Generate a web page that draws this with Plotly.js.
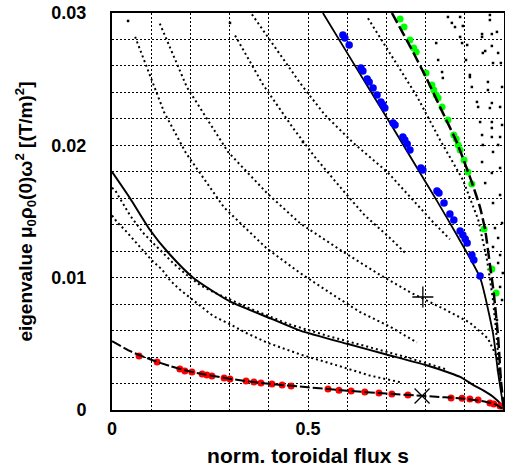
<!DOCTYPE html>
<html><head><meta charset="utf-8">
<script src="https://cdn.plot.ly/plotly-3.0.1.min.js"></script>
<style>html,body{margin:0;padding:0;background:#fff}#chart{width:505px;height:470px}</style>
</head><body><div id="chart"></div>
<script>
// ---- tick labels ----
const xTickVals = [0, 0.5, 1];
const xTickText = ['0', '0.5', '1'];
const yTickVals = [0, 0.01, 0.02, 0.03];
const yTickText = ['0', '0.01', '0.02', '0.03'];

// ---- continuum curves ----
const lowSolidX = [0, 0.046, 0.097, 0.143, 0.207, 0.301, 0.406, 0.48, 0.6, 0.7, 0.8, 0.862, 0.888, 0.921, 0.946, 0.972, 0.99, 1.0];
const lowSolidY = [0.0180, 0.0160, 0.0136, 0.0119, 0.0100, 0.0082, 0.0069, 0.0060, 0.0050, 0.0042, 0.0034, 0.0028, 0.0025, 0.0019, 0.0015, 0.0010, 0.0005, 0];

const redDashX = [0, 0.05, 0.1, 0.15, 0.2, 0.3, 0.4, 0.5, 0.6, 0.7, 0.8, 0.9, 0.95, 0.98, 1];
const redDashY = [0.0052, 0.0044, 0.0038, 0.0033, 0.0029, 0.00236, 0.00198, 0.00172, 0.00146, 0.00124, 0.00105, 0.00085, 0.00065, 0.0004, 0];

const upSolidX = [0.538, 0.612, 0.709, 0.778, 0.829, 0.88, 0.939, 0.972, 0.985, 0.997, 1.0];
const upSolidY = [0.030, 0.0264, 0.0217, 0.0183, 0.0158, 0.0132, 0.0100, 0.0058, 0.0028, 0.0005, 0];

const upDashX = [0.714, 0.76, 0.8, 0.84, 0.88, 0.918, 0.939, 0.952, 0.964, 0.974, 0.985, 0.992, 1.0];
const upDashY = [0.030, 0.0275, 0.0252, 0.0227, 0.0202, 0.0172, 0.0153, 0.0136, 0.0110, 0.0088, 0.0055, 0.0023, 0];

// ---- eigenvalue points ----
const redX = [0.069,0.115,0.173,0.186,0.204,0.230,0.242,0.255,0.286,0.301,0.342,0.362,0.380,0.408,0.434,0.457,0.551,0.579,0.610,0.645,0.681,0.714,0.755,0.865,0.893,0.913,0.934,0.964,0.974,0.990];
const redY = [0.00408,0.00363,0.0031,0.00295,0.00287,0.00272,0.00264,0.00257,0.00242,0.00234,0.00219,0.00212,0.00204,0.00196,0.00189,0.00181,0.00159,0.00150,0.00144,0.00136,0.00128,0.00121,0.00113,0.00091,0.00088,0.00083,0.00076,0.00053,0.00045,0.0003];

const blueX = [0.589,0.594,0.605,0.635,0.640,0.651,0.656,0.666,0.676,0.686,0.691,0.696,0.717,0.722,0.742,0.747,0.753,0.760,0.788,0.793,0.829,0.834,0.847,0.862,0.872,0.888,0.895,0.901,0.906,0.918,0.923,0.939];
const blueY = [0.02834,0.02811,0.02758,0.02585,0.02562,0.02501,0.02479,0.02433,0.02381,0.02328,0.02306,0.02282,0.02169,0.02154,0.02063,0.0204,0.0201,0.01965,0.01829,0.01814,0.01655,0.0164,0.01564,0.01481,0.01436,0.01353,0.01322,0.01292,0.01262,0.01171,0.01134,0.01013];

const greenX = [0.735,0.745,0.760,0.770,0.776,0.801,0.816,0.821,0.827,0.832,0.842,0.857,0.872,0.878,0.883,0.888,0.898,0.908,0.918,0.949,0.969,0.980];
const greenY = [0.02955,0.02894,0.02796,0.02736,0.02705,0.02547,0.02456,0.02418,0.0238,0.02358,0.0229,0.02192,0.02078,0.02048,0.02003,0.01965,0.01889,0.01799,0.01708,0.01368,0.01066,0.00884];

// ---- dotted branches (small black dots) ----
const brAX = [0.059,0.133,0.189,0.286,0.395,0.480,0.564,0.633,0.709,0.778];
const brAY = [0.0282,0.0225,0.0194,0.0153,0.0122,0.01035,0.0087,0.0074,0.0063,0.0051];
const brBX = [0.122,0.191,0.296,0.395,0.480,0.582,0.684,0.760,0.849,0.913,0.959,0.985];
const brBY = [0.0292,0.0244,0.0195,0.0164,0.0141,0.0121,0.0102,0.0089,0.0076,0.0066,0.0054,0.0038];
const brFX = [0.314,0.385,0.462,0.518,0.589,0.645,0.709,0.747];
const brFY = [0.0283,0.0246,0.0213,0.0191,0.0166,0.0147,0.0130,0.0119];
const brGX = [0.357,0.480,0.543,0.615,0.702,0.760,0.819,0.862];
const brGY = [0.0299,0.0247,0.0223,0.0202,0.0180,0.0161,0.0142,0.0129];
const brMX = [0.653,0.717,0.778,0.837,0.895,0.934,0.957,0.972,0.982,0.990];
const brMY = [0.0296,0.0266,0.0237,0.0204,0.0174,0.0144,0.0113,0.0083,0.0053,0.0023];
const brD1X = [0,0.008,0.028,0.046,0.064,0.079,0.102,0.128,0.156,0.191,0.224,0.258,0.293,0.35,0.45,0.55,0.65,0.75,0.85];
const brD1Y = [0.0168,0.0166,0.0156,0.0147,0.0140,0.0134,0.0127,0.0119,0.0111,0.0102,0.00945,0.00892,0.00846,0.0077,0.0065,0.0056,0.0048,0.0040,0.0031];
const brD2X = [0,0.013,0.033,0.054,0.079,0.102,0.128,0.148,0.173,0.199,0.232,0.258,0.293,0.344,0.395,0.480,0.582,0.658,0.735];
const brD2Y = [0.0147,0.0142,0.0136,0.0129,0.0121,0.0113,0.0106,0.0098,0.0091,0.0085,0.0077,0.0071,0.0066,0.0058,0.0051,0.0042,0.0033,0.0026,0.0021];
const brNX = [0.857,0.867,0.875,0.888,0.893,0.903,0.913,0.918,0.931,0.939,0.944,0.946,0.944,0.952];
const brNY = [0.0297,0.02925,0.02894,0.02819,0.02773,0.02645,0.02532,0.02441,0.02328,0.02176,0.02078,0.02003,0.01874,0.01715];

// scattered single dots
const scatX = [0.041,0.301,0.487,0.888,0.964,0.964,0.895,0.944,0.944,0.982,0.969,0.827,0.906,0.969,0.952,0.946,0.985,0.832,0.972,0.992,0.842,0.913,0.844,0.959,0.995,0.959,0.969,0.934,0.964,0.990,0.969,0.995,0.969,0.969,0.990,0.985,0.972,0.990,0.969,0.990,0.972,0.995,0.977,0.985,0.972,0.990,0.985,0.997,0.990,0.995,0.982,0.985,0.990];
const scatY = [0.0294,0.02925,0.02025,0.0297,0.02985,0.02947,0.02902,0.02841,0.02819,0.02857,0.02841,0.02773,0.02758,0.02751,0.02713,0.02698,0.02698,0.02645,0.02622,0.02622,0.02554,0.02516,0.02509,0.02479,0.02441,0.02418,0.0232,0.0229,0.02282,0.0229,0.02176,0.02154,0.02131,0.02063,0.02063,0.02003,0.0195,0.01829,0.01791,0.01625,0.01564,0.01413,0.01375,0.0130,0.01232,0.01171,0.01111,0.01035,0.0093,0.00831,0.0068,0.0030,0.00227];

// special markers
const plusX = [0.793], plusY = [0.00854];
const crossX = [0.791], crossY = [0.00106];

const dotLine = {color:'#000', width:2, dash:'2px,3px'};
function branch(x, y){ return {x:x, y:y, mode:'lines', line:dotLine, type:'scatter'}; }

const traces = [
  branch(brAX, brAY), branch(brBX, brBY), branch(brFX, brFY), branch(brGX, brGY),
  branch(brMX, brMY), branch(brD1X, brD1Y), branch(brD2X, brD2Y),
  {x:brNX, y:brNY, mode:'markers', marker:{color:'#000', size:2.5, symbol:'square'}},
  {x:scatX, y:scatY, mode:'markers', marker:{color:'#000', size:2.5, symbol:'square'}},
  {x:lowSolidX, y:lowSolidY, mode:'lines', line:{color:'#000', width:2, shape:'spline', smoothing:0.6}},
  {x:upSolidX, y:upSolidY, mode:'lines', line:{color:'#000', width:1.8, shape:'spline', smoothing:0.5}},
  {x:redX, y:redY, mode:'markers', marker:{color:'#ff0000', size:7}},
  {x:blueX, y:blueY, mode:'markers', marker:{color:'#0000ff', size:7.5}},
  {x:greenX, y:greenY, mode:'markers', marker:{color:'#00ff00', size:7}},
  {x:redDashX, y:redDashY, mode:'lines', line:{color:'#000', width:2, dash:'10px,3px', shape:'spline', smoothing:0.6}},
  {x:upDashX, y:upDashY, mode:'lines', line:{color:'#000', width:2.5, dash:'11px,4px', shape:'spline', smoothing:0.5}},
  {x:plusX, y:plusY, mode:'markers', marker:{symbol:'cross-thin', size:15, line:{color:'#000', width:1.3}}},
  {x:crossX, y:crossY, mode:'markers', marker:{symbol:'x-thin', size:15, line:{color:'#000', width:1.3}}}
];

const tickFont = {family:'Liberation Sans, Arial, sans-serif', size:18, weight:'bold', color:'#000'};
const xTitleFont = {family:'Liberation Sans, Arial, sans-serif', size:21, weight:'bold', color:'#000'};
const yTitleFont = {family:'Liberation Sans, Arial, sans-serif', size:19, weight:'bold', color:'#000'};
const gridStyle = {showgrid:true, gridcolor:'#000', gridwidth:1, griddash:'2px,2px'};

const layout = {
  width:505, height:470,
  margin:{l:112, r:1, t:13, b:60},
  showlegend:false,
  paper_bgcolor:'#fff', plot_bgcolor:'#fff',
  xaxis:Object.assign({
    range:[0,1], tickmode:'array', tickvals:xTickVals, ticktext:xTickText,
    minor:Object.assign({tickmode:'linear', tick0:0, dtick:0.1}, gridStyle),
    ticks:'', zeroline:false, showline:true, mirror:true, linecolor:'#000', linewidth:2,
    tickfont:tickFont, ticklabelstandoff:1,
    title:{text:'norm. toroidal flux s', font:xTitleFont, standoff:11}
  }, gridStyle),
  yaxis:Object.assign({
    range:[0,0.03], tickmode:'array', tickvals:yTickVals, ticktext:yTickText,
    minor:Object.assign({tickmode:'linear', tick0:0, dtick:0.002}, gridStyle),
    ticks:'', zeroline:false, showline:true, mirror:true, linecolor:'#000', linewidth:2,
    tickfont:tickFont, ticklabelstandoff:20,
    title:{text:'eigenvalue μ<sub>0</sub>ρ<sub>0</sub>(0)ω<sup>2</sup> [(T/m)<sup>2</sup>]', font:yTitleFont, standoff:14}
  }, gridStyle)
};

Plotly.newPlot('chart', traces, layout, {staticPlot:true, displayModeBar:false});
</script></body></html>
